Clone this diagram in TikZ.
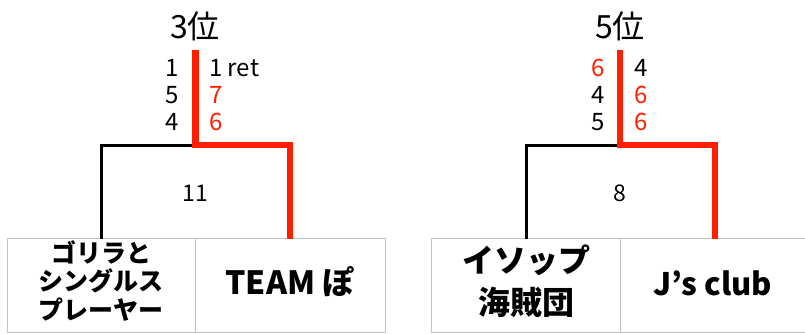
\documentclass[tikz,border=0pt]{standalone}
\usepackage{fontspec}
\setmainfont{Noto Sans CJK JP}[BoldFont={Noto Sans CJK JP Black}]
\begin{document}
\begin{tikzpicture}[x=1pt,y=-1pt,
  win/.style={draw={rgb,255:red,255;green,30;blue,0},line width=6.5pt},
  lose/.style={draw=black,line width=3pt},
  cell/.style={draw={rgb,255:red,195;green,195;blue,195},line width=1pt},
  sc/.style={font=\fontsize{24}{24}\selectfont,inner sep=0pt},
  rd/.style={text={rgb,255:red,255;green,30;blue,0}},
  title/.style={font=\fontsize{32}{32}\selectfont,inner sep=0pt},
  tot/.style={font=\fontsize{23}{23}\selectfont,inner sep=0pt},
  team/.style={font=\bfseries\fontsize{25}{28.5}\selectfont,align=center,inner sep=0pt}]
\useasboundingbox (0,0) rectangle (805,333);
% tables
\draw[cell] (7,238) rectangle (385,332);
\draw[cell] (195,238) -- (195,332);
\draw[cell] (431,238) rectangle (820,332);
\draw[cell] (620,238) -- (620,332);
% left bracket
\coordinate (LT) at (195.5,50);
\coordinate (LM) at (195.5,145);
\coordinate (LA) at (101,239);
\coordinate (LB) at (290,239);
\draw[lose] (LA) |- (LM);
\draw[win] (LT) -- (LM) -| (LB);
% right bracket
\coordinate (RT) at (620,50);
\coordinate (RM) at (620,145);
\coordinate (RA) at (526,239);
\coordinate (RB) at (715,239);
\draw[lose] (RA) |- (RM);
\draw[win] (RT) -- (RM) -| (RB);
% titles
\node[title] (t1) at (195,26) {3位};
\node[title] (t2) at (620,26) {5位};
% scores left
\node[sc,anchor=east] (l1) at (179,68) {1};
\node[sc,anchor=east] (l2) at (179,95) {5};
\node[sc,anchor=east] (l3) at (179,122) {4};
\node[sc,anchor=west] (r1) at (209,68) {1 ret};
\node[sc,anchor=west,rd] (r2) at (209,95) {7};
\node[sc,anchor=west,rd] (r3) at (209,122) {6};
% scores right
\node[sc,anchor=east,rd] (l4) at (605,68) {6};
\node[sc,anchor=east] (l5) at (605,95) {4};
\node[sc,anchor=east] (l6) at (605,122) {5};
\node[sc,anchor=west] (r4) at (634,68) {4};
\node[sc,anchor=west,rd] (r5) at (634,95) {6};
\node[sc,anchor=west,rd] (r6) at (634,122) {6};
% totals
\node[tot] (s1) at (195,193) {11};
\node[tot] (s2) at (620,193) {8};
% teams
\node[team] (a) at (101,281) {ゴリラと\\シングルス\\プレーヤー};
\node[team,font=\bfseries\fontsize{32}{32}\selectfont] (b) at (290,282) {TEAM ぽ};
\node[team,font=\bfseries\fontsize{32}{42}\selectfont] (c) at (526,281) {イソップ\\海賊団};
\node[team,font=\bfseries\fontsize{31}{31}\selectfont] (d) at (713,283) {J’s club};
\end{tikzpicture}
\end{document}
